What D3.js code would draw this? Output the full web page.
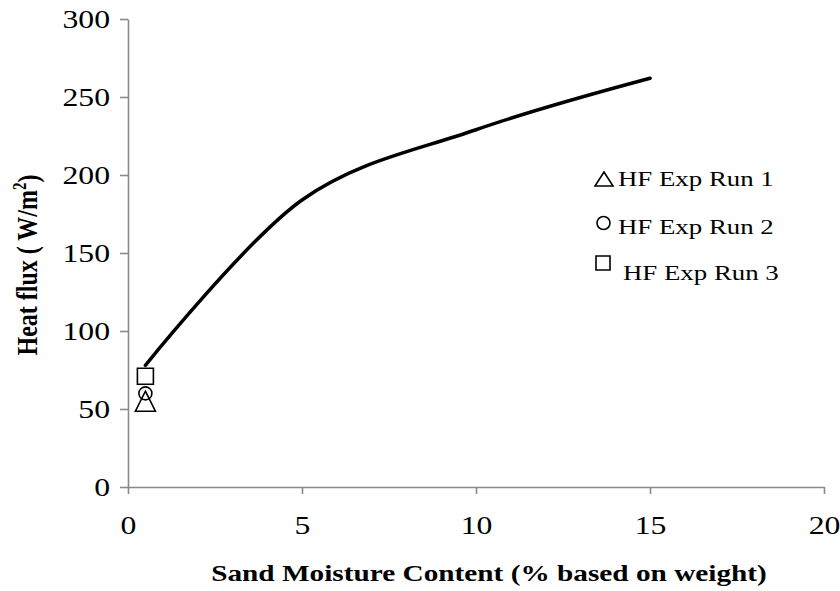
<!DOCTYPE html>
<html>
<head>
<meta charset="utf-8">
<script src="https://cdn.jsdelivr.net/npm/d3@7"></script>
<style>
  html, body { margin: 0; padding: 0; background: #ffffff; }
  svg { display: block; }
  text { font-family: "Liberation Serif", "Times New Roman", serif; fill: #000; }
</style>
</head>
<body>
<svg id="chart" width="840" height="591"></svg>
<script>
// Modelled heat flux vs. sand moisture content (smoothed line)
const modelMoisture = [0.5, 5, 10, 15];
const modelHeatFlux = [78, 184, 229, 262];

// Experimental heat-flux runs, all measured at 0.5 % moisture
const runNames = ["HF Exp Run 1", "HF Exp Run 2", "HF Exp Run 3"];
const runMoisture = [0.5, 0.5, 0.5];
const runHeatFlux = [55, 60, 71];
const runShapes = ["triangle", "circle", "square"];

// Axis ticks
const xTicks = [0, 5, 10, 15, 20];
const yTicks = [0, 50, 100, 150, 200, 250, 300];

const plotLeft = 128, plotRight = 824, plotTop = 19, plotBottom = 487;
const sx = 1.22; // horizontal text stretch

const svg = d3.select("#chart");

const x = d3.scaleLinear().domain([0, 20]).range([plotLeft, plotRight]);
const y = d3.scaleLinear().domain([0, 300]).range([plotBottom, plotTop]);

const axisColor = "#898989";

// Y axis
const gy = svg.append("g")
  .attr("transform", `translate(${plotLeft},0)`)
  .call(d3.axisLeft(y).tickValues(yTicks).tickSize(8).tickSizeOuter(0).tickFormat(d3.format("d")));
gy.select(".domain").attr("stroke", axisColor).attr("stroke-width", 1.6);
gy.selectAll(".tick line").attr("stroke", axisColor).attr("stroke-width", 1.6);
gy.selectAll(".tick text")
  .attr("font-family", "Liberation Serif")
  .attr("font-size", 26)
  .attr("fill", "#000")
  .attr("x", -18 / sx)
  .attr("dy", "0.34em")
  .attr("transform", `scale(${sx},1)`);

// X axis
const gx = svg.append("g")
  .attr("transform", `translate(0,${plotBottom})`)
  .call(d3.axisBottom(x).tickValues(xTicks).tickSize(7).tickSizeOuter(0).tickFormat(d3.format("d")));
gx.select(".domain").attr("stroke", axisColor).attr("stroke-width", 1.6);
gx.selectAll(".tick line").attr("stroke", axisColor).attr("stroke-width", 1.6);
gx.selectAll(".tick text")
  .attr("font-family", "Liberation Serif")
  .attr("font-size", 26)
  .attr("fill", "#000")
  .attr("x", 0)
  .attr("y", 47)
  .attr("dy", 0)
  .attr("transform", `scale(${sx},1)`);

// Axis titles
svg.append("text")
  .attr("transform", `translate(489,581) scale(${sx},1)`)
  .attr("text-anchor", "middle")
  .attr("font-weight", "bold")
  .attr("font-size", 24)
  .text("Sand Moisture Content (% based on weight)");

const yTitle = svg.append("text")
  .attr("transform", `translate(27,265) scale(${sx},1) rotate(-90)`)
  .attr("text-anchor", "middle")
  .attr("dy", "0.35em")
  .attr("font-weight", "bold")
  .attr("font-size", 24);
yTitle.append("tspan").text("Heat flux ( W/m");
yTitle.append("tspan").attr("font-size", 15).attr("dy", "-0.6em").text("2");
yTitle.append("tspan").attr("dy", "0.4em").text(")");

// Smoothed model line
const line = d3.line()
  .x(d => x(d[0]))
  .y(d => y(d[1]))
  .curve(d3.curveCardinal.tension(0));
svg.append("path")
  .datum(modelMoisture.map((m, i) => [m, modelHeatFlux[i]]))
  .attr("fill", "none")
  .attr("stroke", "#000")
  .attr("stroke-width", 3.5)
  .attr("stroke-linecap", "round")
  .attr("d", line);

// Marker shapes drawn around a centre point
function markerPath(shape, cx, cy, s) {
  if (shape === "triangle") {
    const w = s.w, h = s.h;
    return `M${cx},${cy - h / 2}L${cx + w / 2},${cy + h / 2}L${cx - w / 2},${cy + h / 2}Z`;
  }
  if (shape === "square") {
    const a = s.a;
    return `M${cx - a / 2},${cy - a / 2}h${a}v${a}h${-a}Z`;
  }
  const r = s.r;
  return `M${cx - r},${cy}a${r},${r} 0 1,0 ${2 * r},0a${r},${r} 0 1,0 ${-2 * r},0Z`;
}
const plotSize = { triangle: { w: 20, h: 20 }, circle: { r: 6.5 }, square: { a: 16 } };
const legendSize = { triangle: { w: 18, h: 14 }, circle: { r: 6.5 }, square: { a: 14 } };

svg.append("g").selectAll("path")
  .data(runHeatFlux.map((v, i) => ({ m: runMoisture[i], v, shape: runShapes[i] })))
  .join("path")
  .attr("d", d => markerPath(d.shape, x(d.m), y(d.v), plotSize[d.shape]))
  .attr("fill", "none")
  .attr("stroke", "#000")
  .attr("stroke-width", 1.6);

// Legend
const legendRows = [
  { mx: 604, my: 179, tx: 618, ty: 186 },
  { mx: 603.5, my: 223, tx: 618, ty: 234 },
  { mx: 603, my: 263, tx: 623, ty: 280 }
];
const legend = svg.append("g");
runNames.forEach((name, i) => {
  const r = legendRows[i];
  legend.append("path")
    .attr("d", markerPath(runShapes[i], r.mx, r.my, legendSize[runShapes[i]]))
    .attr("fill", "none")
    .attr("stroke", "#000")
    .attr("stroke-width", 1.6);
  legend.append("text")
    .attr("transform", `translate(${r.tx},${r.ty}) scale(${sx},1)`)
    .attr("font-size", 22)
    .text(name);
});
</script>
</body>
</html>
